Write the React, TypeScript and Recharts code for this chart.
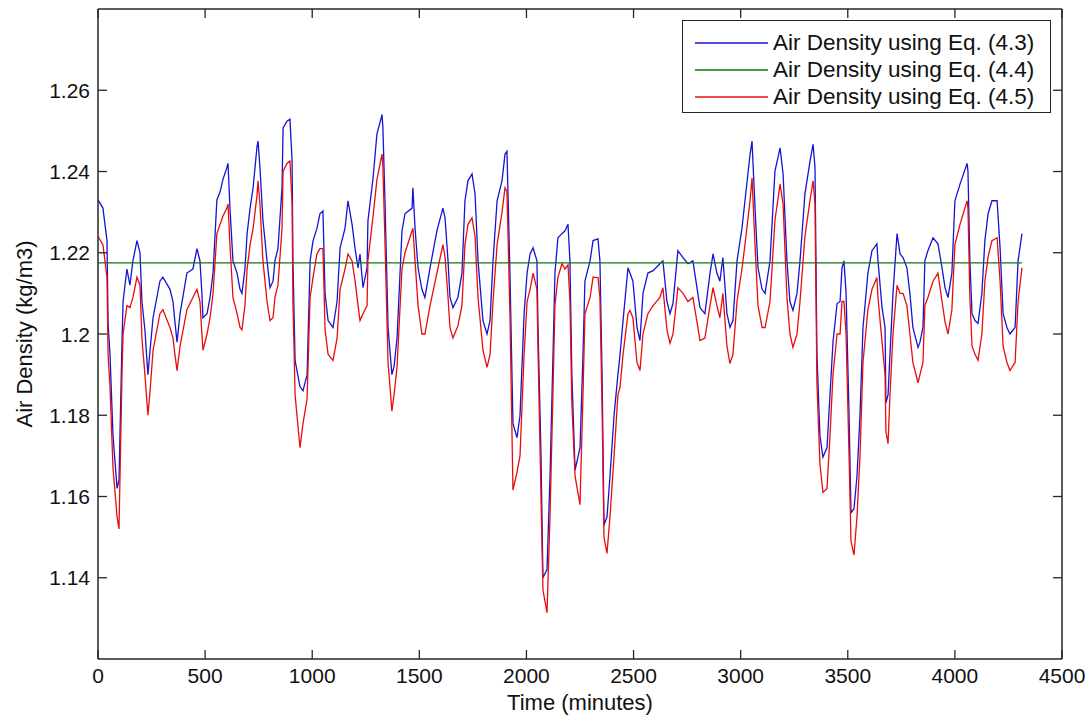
import { LineChart, Line, XAxis, YAxis, Legend } from "recharts";

const FONT = '"Liberation Sans", Arial, Helvetica, sans-serif';
const AXIS = "#262626";
const TEXT = "#111";

// time axis (minutes) shared by the Eq. (4.3) and Eq. (4.5) curves
const timeMinutes = [
  0, 23, 42, 47, 56, 70, 89, 98, 112, 117,
  135, 149, 163, 182, 196, 205, 219, 233, 243, 257,
  289, 303, 336, 350, 359, 369, 383, 415, 443, 462,
  476, 485, 490, 509, 523, 537, 555, 570, 583, 602,
  607, 616, 630, 649, 663, 672, 686, 696, 710, 724,
  742, 747, 756, 770, 789, 803, 817, 826, 840, 859,
  864, 882, 896, 906, 910, 920, 943, 957, 976, 990,
  1004, 1022, 1036, 1050, 1060, 1074, 1097, 1116, 1130, 1153,
  1167, 1186, 1200, 1214, 1223, 1237, 1256, 1260, 1284, 1302,
  1326, 1330, 1340, 1354, 1372, 1382, 1396, 1419, 1433, 1466,
  1470, 1480, 1494, 1512, 1526, 1550, 1582, 1610, 1620, 1634,
  1643, 1657, 1680, 1699, 1713, 1727, 1746, 1760, 1774, 1797,
  1816, 1830, 1844, 1863, 1886, 1900, 1909, 1923, 1937, 1956,
  1970, 1989, 2003, 2017, 2031, 2049, 2054, 2068, 2077, 2096,
  2110, 2124, 2133, 2147, 2166, 2180, 2194, 2203, 2212, 2227,
  2250, 2264, 2273, 2297, 2311, 2334, 2343, 2353, 2362, 2376,
  2390, 2409, 2427, 2437, 2451, 2474, 2483, 2497, 2516, 2530,
  2544, 2567, 2591, 2623, 2637, 2656, 2670, 2684, 2707, 2731,
  2754, 2777, 2796, 2810, 2833, 2857, 2871, 2889, 2903, 2917,
  2936, 2950, 2964, 2983, 3006, 3020, 3044, 3053, 3067, 3081,
  3100, 3114, 3137, 3160, 3184, 3198, 3216, 3230, 3244, 3263,
  3277, 3300, 3324, 3338, 3347, 3356, 3370, 3384, 3403, 3417,
  3431, 3450, 3464, 3473, 3482, 3492, 3506, 3515, 3529, 3543,
  3557, 3571, 3594, 3613, 3636, 3641, 3660, 3674, 3678, 3688,
  3697, 3711, 3730, 3744, 3758, 3776, 3790, 3804, 3828, 3837,
  3851, 3860, 3874, 3898, 3921, 3940, 3954, 3968, 3986, 4000,
  4024, 4057, 4061, 4070, 4080, 4094, 4108, 4126, 4140, 4155,
  4173, 4197, 4211, 4225, 4243, 4257, 4281, 4295, 4313,
];

const densityEq43 = [
  1.233, 1.231, 1.223, 1.2026, 1.195, 1.175, 1.162, 1.164, 1.198, 1.208,
  1.216, 1.212, 1.218, 1.223, 1.22, 1.208, 1.201, 1.19, 1.196, 1.204,
  1.213, 1.214, 1.211, 1.208, 1.203, 1.198, 1.205, 1.215, 1.216, 1.221,
  1.218, 1.21, 1.204, 1.205, 1.209, 1.215, 1.233, 1.235, 1.238, 1.241,
  1.242, 1.231, 1.218, 1.215, 1.211, 1.21, 1.216, 1.2247, 1.231, 1.236,
  1.246, 1.2475, 1.241, 1.228, 1.218, 1.2114, 1.213, 1.218, 1.221, 1.236,
  1.2507, 1.2524, 1.2529, 1.2426, 1.218, 1.1935, 1.187, 1.186, 1.19, 1.218,
  1.223, 1.226, 1.2296, 1.2303, 1.21, 1.2033, 1.2016, 1.208, 1.2212, 1.226,
  1.2328, 1.227, 1.221, 1.2163, 1.2197, 1.2114, 1.2163, 1.2278, 1.2384, 1.2492,
  1.254, 1.2507, 1.232, 1.2016, 1.19, 1.192, 1.199, 1.2254, 1.2296, 1.231,
  1.236, 1.226, 1.2163, 1.211, 1.209, 1.2163, 1.2254, 1.231, 1.2286, 1.218,
  1.209, 1.2065, 1.209, 1.215, 1.2328, 1.2377, 1.2394, 1.2345, 1.218, 1.2033,
  1.2, 1.2033, 1.218, 1.2328, 1.2377, 1.2443, 1.245, 1.215, 1.178, 1.1745,
  1.18, 1.205, 1.215, 1.2197, 1.2212, 1.218, 1.2016, 1.17, 1.14, 1.142,
  1.165, 1.195, 1.215, 1.2237, 1.2247, 1.2254, 1.227, 1.218, 1.19, 1.1665,
  1.172, 1.195, 1.213, 1.218, 1.223, 1.2234, 1.218, 1.19, 1.153, 1.155,
  1.165, 1.18, 1.19, 1.195, 1.2033, 1.2163, 1.215, 1.213, 1.2016, 1.1984,
  1.21, 1.215, 1.2156, 1.2173, 1.218, 1.208, 1.205, 1.2075, 1.2205, 1.2188,
  1.2173, 1.218, 1.2114, 1.2065, 1.205, 1.215, 1.2197, 1.215, 1.213, 1.2188,
  1.205, 1.2016, 1.2033, 1.218, 1.226, 1.2328, 1.2443, 1.2475, 1.231, 1.2163,
  1.211, 1.21, 1.218, 1.2401, 1.2458, 1.2394, 1.218, 1.208, 1.2058, 1.21,
  1.218, 1.2345, 1.2426, 1.2467, 1.241, 1.195, 1.175, 1.1697, 1.172, 1.185,
  1.198, 1.2075, 1.208, 1.2163, 1.218, 1.21, 1.18, 1.156, 1.157, 1.165,
  1.18, 1.2016, 1.215, 1.2205, 1.2222, 1.218, 1.2065, 1.2016, 1.183, 1.185,
  1.195, 1.21, 1.2247, 1.2197, 1.2188, 1.2163, 1.21, 1.2016, 1.1967, 1.198,
  1.2016, 1.218, 1.2205, 1.2237, 1.2222, 1.2163, 1.2114, 1.209, 1.215, 1.2328,
  1.2369, 1.242, 1.2401, 1.218, 1.205, 1.2033, 1.2026, 1.21, 1.223, 1.2296,
  1.2328, 1.2328, 1.2212, 1.205, 1.2016, 1.2, 1.2016, 1.218, 1.2247,
];

const densityEq45 = [
  1.224, 1.222, 1.214, 1.195, 1.187, 1.167, 1.155, 1.152, 1.19, 1.2,
  1.207, 1.2065, 1.209, 1.214, 1.212, 1.199, 1.19, 1.18, 1.186, 1.196,
  1.205, 1.206, 1.2016, 1.199, 1.195, 1.191, 1.197, 1.206, 1.209, 1.211,
  1.208, 1.2, 1.196, 1.2, 1.204, 1.21, 1.2247, 1.227, 1.229, 1.231,
  1.232, 1.222, 1.209, 1.205, 1.2016, 1.201, 1.207, 1.216, 1.222, 1.226,
  1.234, 1.2377, 1.232, 1.218, 1.208, 1.2033, 1.204, 1.209, 1.212, 1.226,
  1.24, 1.242, 1.2426, 1.232, 1.208, 1.185, 1.172, 1.178, 1.184, 1.209,
  1.214, 1.2197, 1.221, 1.221, 1.201, 1.195, 1.1935, 1.199, 1.211, 1.216,
  1.2197, 1.218, 1.213, 1.207, 1.2033, 1.205, 1.207, 1.218, 1.229, 1.238,
  1.2443, 1.241, 1.222, 1.193, 1.181, 1.185, 1.192, 1.216, 1.22, 1.2254,
  1.226, 1.218, 1.207, 1.2, 1.2, 1.207, 1.215, 1.222, 1.219, 1.209,
  1.2016, 1.199, 1.202, 1.207, 1.222, 1.227, 1.2286, 1.224, 1.209, 1.196,
  1.1918, 1.195, 1.208, 1.222, 1.23, 1.236, 1.235, 1.205, 1.1616, 1.166,
  1.17, 1.195, 1.208, 1.211, 1.215, 1.211, 1.196, 1.16, 1.137, 1.1314,
  1.155, 1.186, 1.207, 1.214, 1.2173, 1.216, 1.217, 1.208, 1.183, 1.165,
  1.158, 1.185, 1.205, 1.209, 1.214, 1.2139, 1.209, 1.182, 1.15, 1.146,
  1.155, 1.17, 1.185, 1.187, 1.195, 1.205, 1.2058, 1.204, 1.193, 1.191,
  1.2, 1.205, 1.207, 1.209, 1.2114, 1.201, 1.1977, 1.2, 1.2114, 1.21,
  1.208, 1.209, 1.203, 1.1984, 1.199, 1.207, 1.2114, 1.207, 1.204, 1.21,
  1.197, 1.1927, 1.195, 1.208, 1.216, 1.222, 1.233, 1.2384, 1.222, 1.207,
  1.2016, 1.2016, 1.208, 1.228, 1.2369, 1.232, 1.209, 1.2, 1.1967, 1.2,
  1.208, 1.224, 1.233, 1.2377, 1.232, 1.188, 1.168, 1.161, 1.162, 1.175,
  1.19, 1.2, 1.2, 1.208, 1.208, 1.2, 1.17, 1.149, 1.1456, 1.155,
  1.17, 1.193, 1.206, 1.211, 1.2139, 1.209, 1.198, 1.19, 1.176, 1.173,
  1.185, 1.2, 1.212, 1.21, 1.21, 1.207, 1.2, 1.193, 1.188, 1.19,
  1.193, 1.207, 1.209, 1.213, 1.215, 1.208, 1.203, 1.2, 1.206, 1.222,
  1.227, 1.2328, 1.231, 1.209, 1.197, 1.195, 1.1935, 1.2, 1.213, 1.219,
  1.223, 1.2237, 1.213, 1.197, 1.193, 1.191, 1.193, 1.208, 1.2163,
];

// Eq. (4.4) gives a constant density over the whole record
const eq44Times = [0, 4313];
const densityEq44 = [1.2175, 1.2175];

const xTicks = [0, 500, 1000, 1500, 2000, 2500, 3000, 3500, 4000, 4500];
const yTicks = [1.14, 1.16, 1.18, 1.2, 1.22, 1.24, 1.26];

const rows = timeMinutes.map((t, i) => ({
  t,
  eq43: densityEq43[i],
  eq45: densityEq45[i],
}));
const eq44Rows = eq44Times.map((t, i) => ({ t, eq44: densityEq44[i] }));

const fmtY = (v: number) => String(Number(v.toFixed(2)));

const tickText = {
  fontFamily: FONT,
  fontSize: 21,
  fill: TEXT,
};

// MATLAB style: tick marks point into the plot box
const BottomTick = ({ x, y, payload }: any) => (
  <g>
    <line x1={x} x2={x} y1={y} y2={y - 9} stroke={AXIS} strokeWidth={1.3} />
    <text x={x} y={y + 9} dy="0.72em" textAnchor="middle" {...tickText}>
      {payload.value}
    </text>
  </g>
);

const TopTick = ({ x, y }: any) => (
  <line x1={x} x2={x} y1={y} y2={y + 9} stroke={AXIS} strokeWidth={1.3} />
);

const LeftTick = ({ x, y, payload }: any) => (
  <g>
    <line x1={x} x2={x + 9} y1={y} y2={y} stroke={AXIS} strokeWidth={1.3} />
    <text x={x - 8} y={y} dy="0.36em" textAnchor="end" {...tickText}>
      {fmtY(payload.value)}
    </text>
  </g>
);

const RightTick = ({ x, y }: any) => (
  <line x1={x - 9} x2={x} y1={y} y2={y} stroke={AXIS} strokeWidth={1.3} />
);

const LegendBox = ({ payload }: any) => (
  <div
    style={{
      boxSizing: "border-box",
      width: 369,
      height: 93,
      border: `1.5px solid ${AXIS}`,
      background: "#fff",
      padding: "8px 0 0 12px",
      fontFamily: FONT,
      fontSize: 22.5,
      color: TEXT,
    }}
  >
    {(payload || []).map((entry: any) => (
      <div
        key={entry.value}
        style={{ display: "flex", alignItems: "center", height: 27 }}
      >
        <svg width={73} height={4} style={{ display: "block" }}>
          <line x1={0} x2={73} y1={2} y2={2} stroke={entry.color} strokeWidth={1.4} />
        </svg>
        <span style={{ marginLeft: 5, lineHeight: "27px", whiteSpace: "nowrap" }}>
          {entry.value}
        </span>
      </div>
    ))}
  </div>
);

export default function App() {
  return (
    <div style={{ position: "absolute", left: 0, top: 0, background: "#fff" }}>
      <LineChart
        width={1090}
        height={718}
        data={rows}
        margin={{ top: 0, right: 0, bottom: 0, left: 0 }}
      >
        <XAxis
          dataKey="t"
          type="number"
          domain={[0, 4500]}
          ticks={xTicks}
          interval={0}
          allowDataOverflow
          height={59}
          tickSize={0}
          tickMargin={0}
          tickLine={false}
          axisLine={{ stroke: AXIS, strokeWidth: 1.5 }}
          tick={<BottomTick />}
          label={{
            value: "Time (minutes)",
            position: "insideBottom",
            offset: 8,
            style: { fontFamily: FONT, fontSize: 22, fill: TEXT },
          }}
        />
        <XAxis
          xAxisId="top"
          orientation="top"
          dataKey="t"
          type="number"
          domain={[0, 4500]}
          ticks={xTicks}
          interval={0}
          allowDataOverflow
          height={9}
          tickSize={0}
          tickMargin={0}
          tickLine={false}
          axisLine={{ stroke: AXIS, strokeWidth: 1.5 }}
          tick={<TopTick />}
        />
        <YAxis
          type="number"
          domain={[1.12, 1.28]}
          ticks={yTicks}
          interval={0}
          allowDataOverflow
          width={98}
          tickSize={0}
          tickMargin={0}
          tickLine={false}
          axisLine={{ stroke: AXIS, strokeWidth: 1.5 }}
          tick={<LeftTick />}
          label={{
            value: "Air Density (kg/m3)",
            angle: -90,
            position: "insideLeft",
            offset: 24,
            style: { fontFamily: FONT, fontSize: 22, fill: TEXT, textAnchor: "middle" },
          }}
        />
        <YAxis
          yAxisId="right"
          orientation="right"
          type="number"
          domain={[1.12, 1.28]}
          ticks={yTicks}
          interval={0}
          allowDataOverflow
          width={28}
          tickSize={0}
          tickMargin={0}
          tickLine={false}
          axisLine={{ stroke: AXIS, strokeWidth: 1.5 }}
          tick={<RightTick />}
        />
        <Legend
          layout="vertical"
          align="center"
          verticalAlign="middle"
          content={<LegendBox />}
          wrapperStyle={{ left: 682, top: 20, width: 369, height: 93 }}
        />
        <Line
          name="Air Density using Eq. (4.3)"
          dataKey="eq43"
          type="linear"
          stroke="#1414d2"
          strokeWidth={1.3}
          dot={false}
          isAnimationActive={false}
        />
        <Line
          name="Air Density using Eq. (4.4)"
          data={eq44Rows}
          dataKey="eq44"
          type="linear"
          stroke="#0a7a0a"
          strokeWidth={1.3}
          dot={false}
          isAnimationActive={false}
        />
        <Line
          name="Air Density using Eq. (4.5)"
          dataKey="eq45"
          type="linear"
          stroke="#e80c0c"
          strokeWidth={1.3}
          dot={false}
          isAnimationActive={false}
        />
      </LineChart>
    </div>
  );
}
